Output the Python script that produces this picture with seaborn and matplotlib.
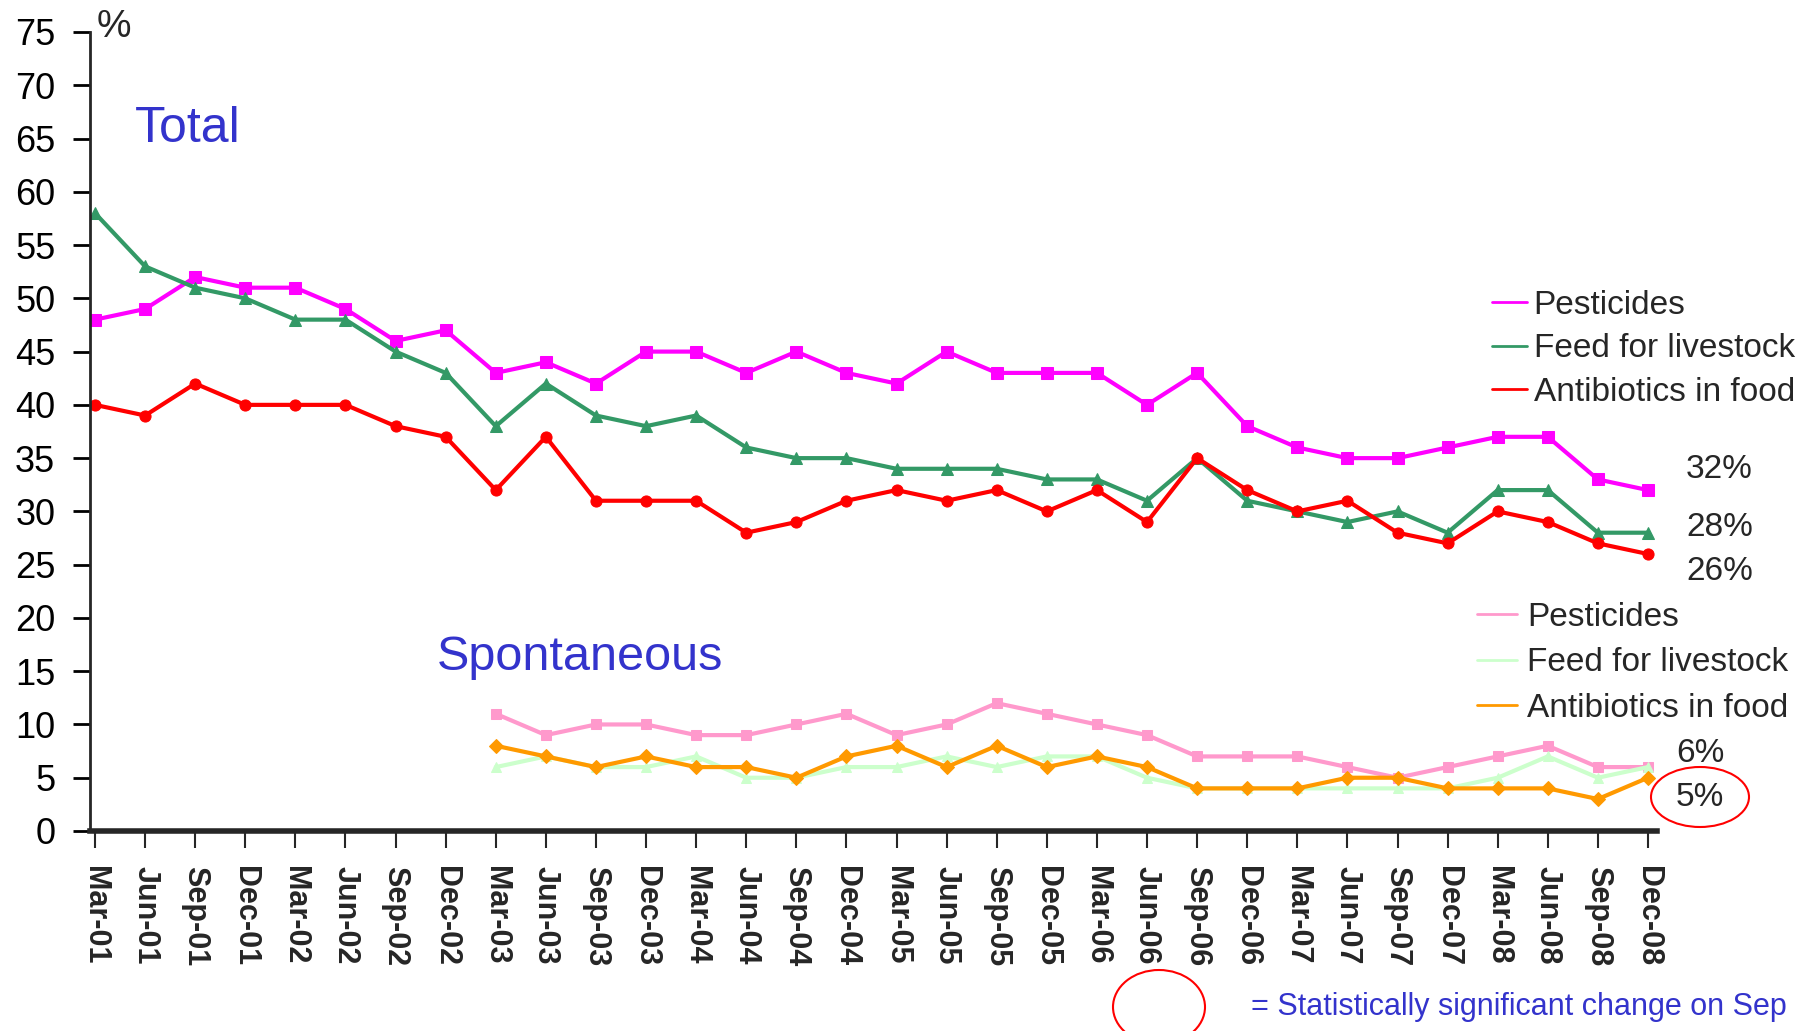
import numpy as np
import pandas as pd
import matplotlib
matplotlib.use("Agg")
import matplotlib.pyplot as plt
from matplotlib.patches import Ellipse
from matplotlib.lines import Line2D
from matplotlib import font_manager
import seaborn as sns

# quarters Mar-01 .. Dec-08
quarters = [f"{m}-{y:02d}" for y in range(1, 9) for m in ["Mar", "Jun", "Sep", "Dec"]]

# Total
total_pesticides = [48, 49, 52, 51, 51, 49, 46, 47, 43, 44, 42, 45, 45, 43, 45, 43,
                    42, 45, 43, 43, 43, 40, 43, 38, 36, 35, 35, 36, 37, 37, 33, 32]
total_feed = [58, 53, 51, 50, 48, 48, 45, 43, 38, 42, 39, 38, 39, 36, 35, 35,
              34, 34, 34, 33, 33, 31, 35, 31, 30, 29, 30, 28, 32, 32, 28, 28]
total_antibiotics = [40, 39, 42, 40, 40, 40, 38, 37, 32, 37, 31, 31, 31, 28, 29, 31,
                     32, 31, 32, 30, 32, 29, 35, 32, 30, 31, 28, 27, 30, 29, 27, 26]

# Spontaneous (from Mar-03)
spont_start = 8
spont_pesticides = [11, 9, 10, 10, 9, 9, 10, 11, 9, 10, 12, 11, 10, 9, 7, 7,
                    7, 6, 5, 6, 7, 8, 6, 6]
spont_feed = [6, 7, 6, 6, 7, 5, 5, 6, 6, 7, 6, 7, 7, 5, 4, 4,
              4, 4, 4, 4, 5, 7, 5, 6]
spont_antibiotics = [8, 7, 6, 7, 6, 6, 5, 7, 8, 6, 8, 6, 7, 6, 4, 4,
                     4, 5, 5, 4, 4, 4, 3, 5]

labels = ["Pesticides", "Feed for livestock", "Antibiotics in food"]
end_labels_total = ["32%", "28%", "26%"]
end_labels_spont = ["6%", "5%"]

sns.set_style("ticks")
plt.rcParams["font.family"] = ["Liberation Sans", "DejaVu Sans"]

# narrow bold face for the quarter labels, if it is there
names = {f.name for f in font_manager.fontManager.ttflist}
if "Liberation Sans Narrow" in names:
    tick_font, tick_size = "Liberation Sans Narrow", 27
else:
    tick_font, tick_size = "Liberation Sans", 22

W, H = 1805, 1031
fig = plt.figure(figsize=(W / 100, H / 100), dpi=100)
ax = fig.add_axes([90 / W, 1 - 831 / H, (1657 - 90) / W, (831 - 32) / H])

x_all = np.arange(len(quarters))
x_sp = x_all[spont_start:]

total_series = [
    (total_pesticides, "#FF00FF", "s"),
    (total_feed, "#339966", "^"),
    (total_antibiotics, "#FF0000", "o"),
]
spont_series = [
    (spont_pesticides, "#FF99CC", "s"),
    (spont_feed, "#CCFFCC", "^"),
    (spont_antibiotics, "#FF9900", "D"),
]

for vals, col, mk in total_series:
    sns.lineplot(x=x_all, y=vals, ax=ax, color=col, marker=mk, markersize=8,
                 markeredgecolor=col, linewidth=3, legend=False)
for vals, col, mk in spont_series:
    sns.lineplot(x=x_sp, y=vals, ax=ax, color=col, marker=mk, markersize=7,
                 markeredgecolor=col, linewidth=3, legend=False)

ax.set_xlim(-0.1, 31.18)
ax.set_ylim(0, 75)
ax.set_yticks(range(0, 80, 5))
ax.set_xticks(x_all)
ax.set_xticklabels(quarters, rotation=-90, fontsize=tick_size, fontweight="bold",
                   family=[tick_font, "DejaVu Sans"])
ax.tick_params(axis="y", labelsize=26, length=12, width=2, pad=13, colors="black")
ax.tick_params(axis="x", length=12, width=1.5, pad=13, direction="out")
sns.despine(ax=ax)
ax.spines["left"].set_linewidth(2)
ax.spines["bottom"].set_linewidth(4)
ax.set_xlabel("")
ax.set_ylabel("")

# legends
h1 = [Line2D([], [], color=c, lw=2) for _, c, _ in total_series]
leg1 = fig.legend(h1, labels, loc="upper left", bbox_to_anchor=(1492 / W, 1 - 290 / H),
                  frameon=False, fontsize=24, handlelength=1.05, handletextpad=0.2,
                  labelspacing=0.37, borderpad=0, borderaxespad=0)
h2 = [Line2D([], [], color=c, lw=2) for _, c, _ in spont_series]
leg2 = fig.legend(h2, labels, loc="upper left", bbox_to_anchor=(1477 / W, 1 - 602 / H),
                  frameon=False, fontsize=24, handlelength=1.2, handletextpad=0.3,
                  labelspacing=0.43, borderpad=0, borderaxespad=0)

# texts
def ftext(x, y, s, **kw):
    fig.text(x / W, 1 - y / H, s, va="center", **kw)

ftext(97, 27, "%", fontsize=28)
ftext(135, 129, "Total", fontsize=36, color="#3333CC")
ftext(437, 658, "Spontaneous", fontsize=35, color="#3333CC")
for s, y in zip(end_labels_total, [470, 527, 572]):
    ftext(1686, y, s, fontsize=24)
for s, y in zip(end_labels_spont, [753, 797]):
    ftext(1676, y, s, fontsize=24)
ftext(1251, 1007, "= Statistically significant change on Sep", fontsize=22, color="#3333CC")

fig.patches.append(Ellipse((1700 / W, 1 - 797 / H), 98 / W, 60 / H, transform=fig.transFigure,
                           fill=False, edgecolor="#FF0000", lw=1.5))
fig.patches.append(Ellipse((1159 / W, 1 - 1007 / H), 92 / W, 74 / H, transform=fig.transFigure,
                           fill=False, edgecolor="#FF0000", lw=1.5))

fig.savefig("out.png", dpi=100)
